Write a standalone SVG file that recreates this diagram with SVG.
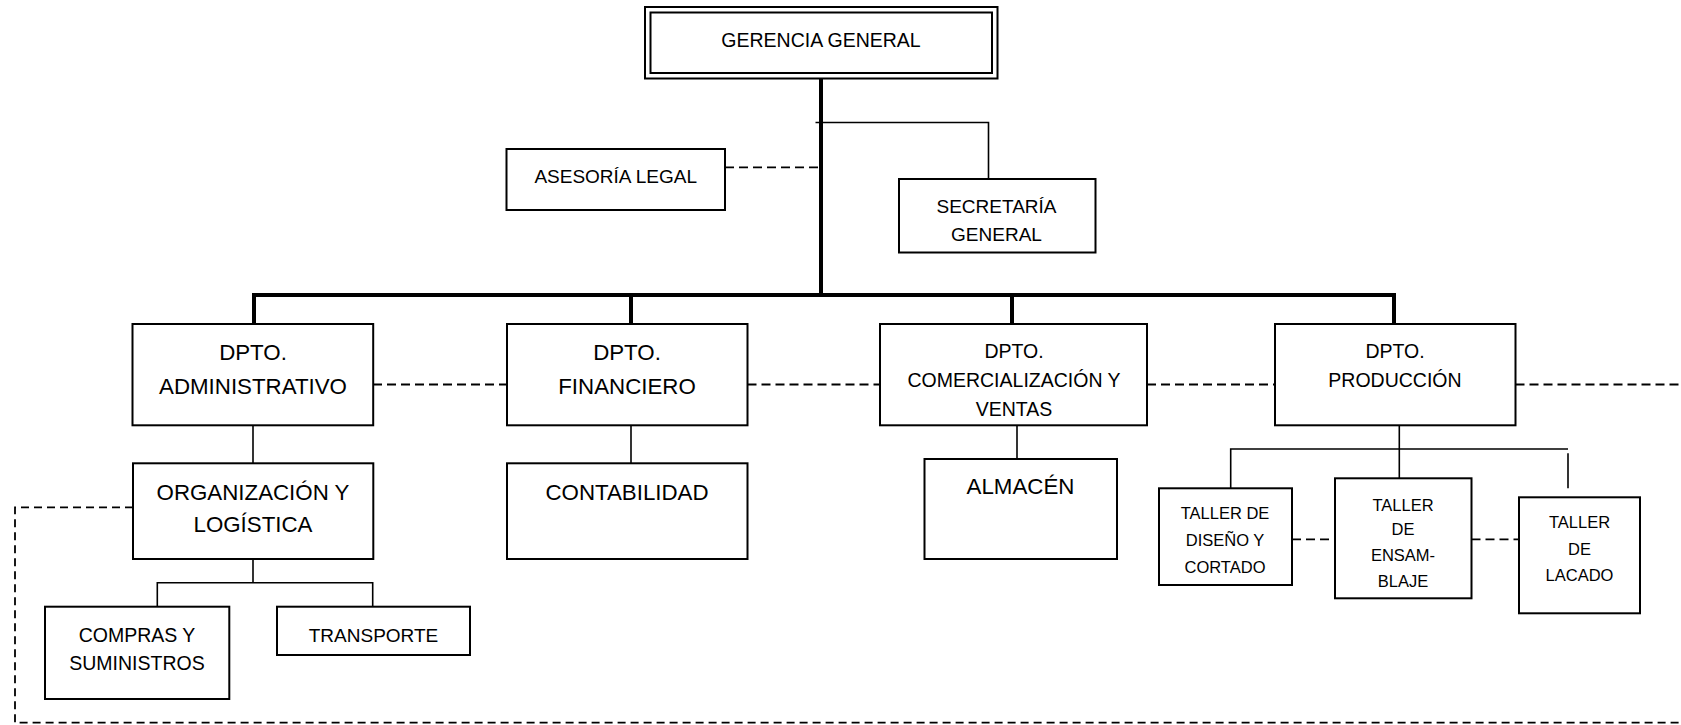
<svg xmlns="http://www.w3.org/2000/svg" width="1681" height="725" viewBox="0 0 1681 725">
  <style>
    .box { fill: #ffffff; stroke: #000000; stroke-width: 2; }
    .thick { stroke: #000000; stroke-width: 4; fill: none; }
    .thin { stroke: #000000; stroke-width: 1.6; fill: none; }
    .dash { stroke: #000000; stroke-width: 1.8; fill: none; stroke-dasharray: 9 5; }
    .dash-long { stroke: #000000; stroke-width: 1.8; fill: none; stroke-dasharray: 8 5; }
    text { font-family: "Liberation Sans", Arial, sans-serif; fill: #000000; text-anchor: middle; }
    .t195 { font-size: 19.5px; }
    .t19 { font-size: 19px; }
    .t22 { font-size: 22.3px; }
    .t165 { font-size: 16.5px; }
  </style>
  <rect width="1681" height="725" fill="#ffffff"/>

  <!-- connectors -->
  <g id="connectors">
    <!-- main trunk and department bar -->
    <line class="thick" x1="821" y1="78" x2="821" y2="295"/>
    <line class="thick" x1="252" y1="295" x2="1396" y2="295"/>
    <line class="thick" x1="254" y1="295" x2="254" y2="324"/>
    <line class="thick" x1="631" y1="295" x2="631" y2="324"/>
    <line class="thick" x1="1012" y1="295" x2="1012" y2="324"/>
    <line class="thick" x1="1394" y1="295" x2="1394" y2="324"/>
    <!-- staff units -->
    <polyline class="thin" points="815.5,122.5 988.5,122.5 988.5,179"/>
    <line class="dash" x1="725" y1="167.3" x2="819" y2="167.3"/>
    <!-- coordination between departments -->
    <line class="dash" x1="373" y1="384.5" x2="507" y2="384.5"/>
    <line class="dash" x1="747.5" y1="384.5" x2="880" y2="384.5"/>
    <line class="dash" x1="1147" y1="384.5" x2="1275" y2="384.5"/>
    <line class="dash" x1="1515.5" y1="384.5" x2="1681" y2="384.5"/>
    <!-- department sub-units -->
    <line class="thin" x1="253" y1="425.3" x2="253" y2="463.3"/>
    <line class="thin" x1="631" y1="419" x2="631" y2="463.3"/>
    <line class="thin" x1="1017" y1="418" x2="1017" y2="459"/>
    <!-- logistics loop -->
    <polyline class="dash-long" points="133,507.3 15,507.3 15,722.7 1681,722.7"/>
    <!-- logistics children -->
    <line class="thin" x1="253" y1="559" x2="253" y2="582.7"/>
    <polyline class="thin" points="157.3,606.7 157.3,582.7 372.7,582.7 372.7,606.7"/>
    <!-- production workshops -->
    <line class="thin" x1="1399.3" y1="425.3" x2="1399.3" y2="478.3"/>
    <polyline class="thin" points="1230.7,488.3 1230.7,449 1568,449"/>
    <line class="thin" x1="1568" y1="453.3" x2="1568" y2="488.3"/>
    <line class="dash" x1="1292" y1="539.3" x2="1335" y2="539.3"/>
    <line class="dash" x1="1471.5" y1="539.3" x2="1519" y2="539.3"/>
  </g>

  <g id="gerencia-general">
    <rect class="box" x="645" y="7" width="352.5" height="71.5"/>
    <rect class="box" x="650.5" y="12.5" width="341.5" height="60.5"/>
    <text class="t195" x="821" y="46.5">GERENCIA GENERAL</text>
  </g>

  <g id="asesoria-legal">
    <rect class="box" x="506.5" y="149" width="218.5" height="61"/>
    <text class="t19" x="615.7" y="182.7">ASESORÍA LEGAL</text>
  </g>

  <g id="secretaria-general">
    <rect class="box" x="899" y="179" width="196.5" height="73.5"/>
    <text class="t19" x="996.5" y="212.7">SECRETARÍA</text>
    <text class="t19" x="996.5" y="241">GENERAL</text>
  </g>

  <g id="dpto-administrativo">
    <rect class="box" x="132.5" y="324" width="240.7" height="101.3"/>
    <text class="t22" x="253" y="360">DPTO.</text>
    <text class="t22" x="253" y="394">ADMINISTRATIVO</text>
  </g>

  <g id="dpto-financiero">
    <rect class="box" x="507" y="324" width="240.5" height="101.3"/>
    <text class="t22" x="627" y="360">DPTO.</text>
    <text class="t22" x="627" y="394">FINANCIERO</text>
  </g>

  <g id="dpto-comercializacion">
    <rect class="box" x="880" y="324" width="267" height="101.3"/>
    <text class="t195" x="1014" y="358.3">DPTO.</text>
    <text class="t195" x="1014" y="387.3">COMERCIALIZACIÓN Y</text>
    <text class="t195" x="1014" y="415.5">VENTAS</text>
  </g>

  <g id="dpto-produccion">
    <rect class="box" x="1275" y="324" width="240.5" height="101.3"/>
    <text class="t195" x="1395" y="358.3">DPTO.</text>
    <text class="t195" x="1395" y="387.3">PRODUCCIÓN</text>
  </g>

  <g id="organizacion-logistica">
    <rect class="box" x="133" y="463.3" width="240.3" height="95.7"/>
    <text class="t22" x="253" y="500">ORGANIZACIÓN Y</text>
    <text class="t22" x="253" y="532">LOGÍSTICA</text>
  </g>

  <g id="contabilidad">
    <rect class="box" x="507" y="463.3" width="240.5" height="95.7"/>
    <text class="t22" x="627" y="500">CONTABILIDAD</text>
  </g>

  <g id="almacen">
    <rect class="box" x="924.5" y="459" width="192.5" height="100"/>
    <text class="t22" x="1020.5" y="494">ALMACÉN</text>
  </g>

  <g id="compras-suministros">
    <rect class="box" x="45" y="606.7" width="184.3" height="92.3"/>
    <text class="t195" x="137" y="641.7">COMPRAS Y</text>
    <text class="t195" x="137" y="670">SUMINISTROS</text>
  </g>

  <g id="transporte">
    <rect class="box" x="277" y="606.7" width="193" height="48.3"/>
    <text class="t19" x="373.5" y="641.7">TRANSPORTE</text>
  </g>

  <g id="taller-diseno">
    <rect class="box" x="1159" y="488.3" width="133" height="96.7"/>
    <text class="t165" x="1225" y="519.3">TALLER DE</text>
    <text class="t165" x="1225" y="546">DISEÑO Y</text>
    <text class="t165" x="1225" y="572.7">CORTADO</text>
  </g>

  <g id="taller-ensamblaje">
    <rect class="box" x="1335" y="478.3" width="136.5" height="120"/>
    <text class="t165" x="1403" y="510.7">TALLER</text>
    <text class="t165" x="1403" y="535">DE</text>
    <text class="t165" x="1403" y="561">ENSAM-</text>
    <text class="t165" x="1403" y="587.3">BLAJE</text>
  </g>

  <g id="taller-lacado">
    <rect class="box" x="1519" y="497.3" width="121" height="116"/>
    <text class="t165" x="1579.5" y="528.3">TALLER</text>
    <text class="t165" x="1579.5" y="555">DE</text>
    <text class="t165" x="1579.5" y="581">LACADO</text>
  </g>
</svg>
